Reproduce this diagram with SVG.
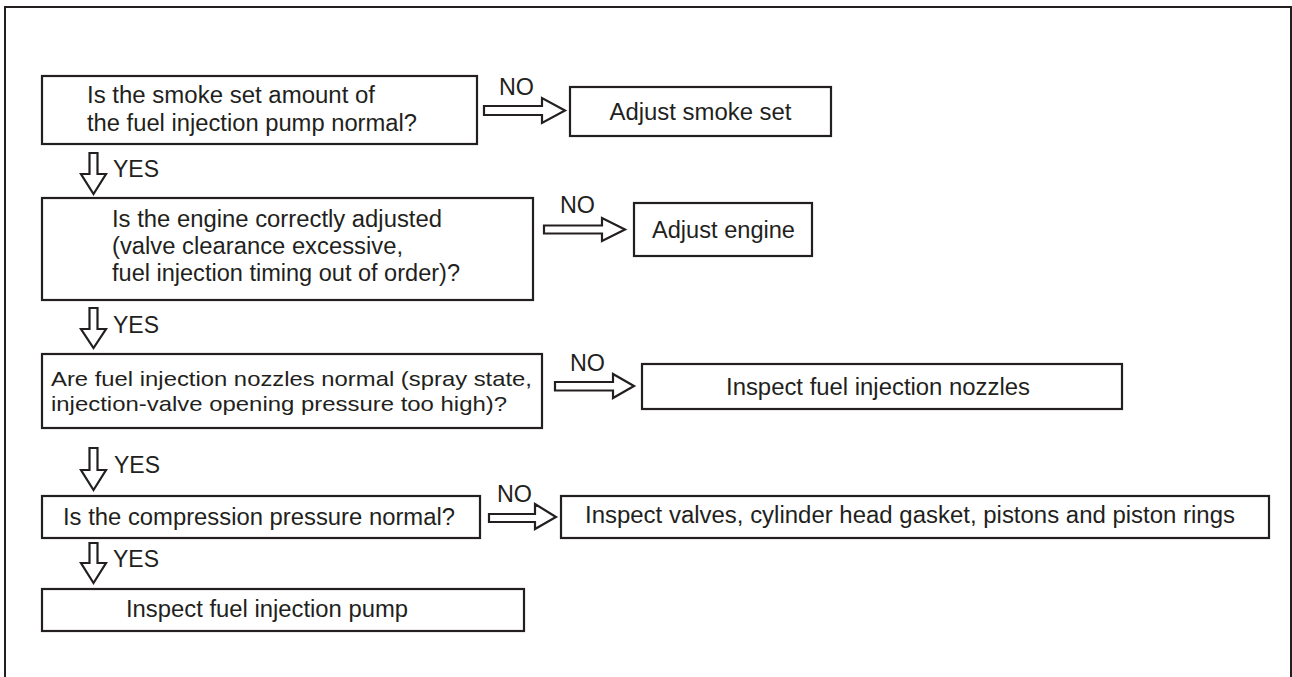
<svg xmlns="http://www.w3.org/2000/svg" width="1292" height="677" viewBox="0 0 1292 677">
<style>
.frame{fill:none;stroke:#231f20;stroke-width:2}
.box{fill:#fff;stroke:#231f20;stroke-width:2.2}
.arr{fill:#fff;stroke:#231f20;stroke-width:2.2;stroke-linejoin:miter}
text{font-family:"Liberation Sans",Arial,sans-serif;font-size:23.5px;fill:#231f20}
.c{text-anchor:middle}
.s{font-size:21px}
</style>
<rect width="1292" height="677" fill="#fff"/>
<path class="frame" d="M5,677 V7 H1291 V677"/>

<g id="q1">
<rect class="box" x="42" y="76" width="435" height="68"/>
<text x="87" y="103" textLength="288" lengthAdjust="spacingAndGlyphs">Is the smoke set amount of</text>
<text x="87" y="131" textLength="330" lengthAdjust="spacingAndGlyphs">the fuel injection pump normal?</text>
</g>
<g id="a1">
<rect class="box" x="570" y="87" width="261" height="49"/>
<text class="c" x="700.5" y="120" textLength="182" lengthAdjust="spacingAndGlyphs">Adjust smoke set</text>
</g>
<g id="q2">
<rect class="box" x="42" y="198" width="491" height="102"/>
<text x="112" y="227" textLength="330" lengthAdjust="spacingAndGlyphs">Is the engine correctly adjusted</text>
<text x="112" y="254" textLength="291" lengthAdjust="spacingAndGlyphs">(valve clearance excessive,</text>
<text x="112" y="281" textLength="348" lengthAdjust="spacingAndGlyphs">fuel injection timing out of order)?</text>
</g>
<g id="a2">
<rect class="box" x="634" y="203" width="178" height="53"/>
<text class="c" x="723.5" y="238" textLength="143" lengthAdjust="spacingAndGlyphs">Adjust engine</text>
</g>
<g id="q3">
<rect class="box" x="42" y="354" width="500" height="74"/>
<text class="s" x="51" y="386" textLength="481" lengthAdjust="spacingAndGlyphs">Are fuel injection nozzles normal (spray state,</text>
<text class="s" x="51" y="411" textLength="456" lengthAdjust="spacingAndGlyphs">injection-valve opening pressure too high)?</text>
</g>
<g id="a3">
<rect class="box" x="642" y="364" width="480" height="45"/>
<text class="c" x="878" y="395" textLength="304" lengthAdjust="spacingAndGlyphs">Inspect fuel injection nozzles</text>
</g>
<g id="q4">
<rect class="box" x="42" y="496" width="438" height="42"/>
<text x="63" y="525" textLength="392" lengthAdjust="spacingAndGlyphs">Is the compression pressure normal?</text>
</g>
<g id="a4">
<rect class="box" x="561" y="496" width="708" height="42"/>
<text x="585" y="523" textLength="650" lengthAdjust="spacingAndGlyphs">Inspect valves, cylinder head gasket, pistons and piston rings</text>
</g>
<g id="a5">
<rect class="box" x="42" y="589" width="482" height="42"/>
<text x="126" y="617" textLength="282" lengthAdjust="spacingAndGlyphs">Inspect fuel injection pump</text>
</g>

<g id="connectors">
<polygon class="arr" points="89.5,153 97.5,153 97.5,174 106,174 93.5,194 81,174 89.5,174"/>
<text x="113" y="177" textLength="46" lengthAdjust="spacingAndGlyphs">YES</text>
<polygon class="arr" points="89.5,308 97.5,308 97.5,329 106,329 93.5,348 81,329 89.5,329"/>
<text x="113" y="333" textLength="46" lengthAdjust="spacingAndGlyphs">YES</text>
<polygon class="arr" points="89.5,448 97.5,448 97.5,470 106,470 93.5,490 81,470 89.5,470"/>
<text x="114" y="473" textLength="46" lengthAdjust="spacingAndGlyphs">YES</text>
<polygon class="arr" points="89.5,543 97.5,543 97.5,563 106,563 93.5,583 81,563 89.5,563"/>
<text x="113" y="567" textLength="46" lengthAdjust="spacingAndGlyphs">YES</text>

<polygon class="arr" points="484,106 542,106 542,98 565,110.5 542,123 542,115 484,115"/>
<text x="499" y="95" textLength="35" lengthAdjust="spacingAndGlyphs">NO</text>
<polygon class="arr" points="544,225.5 602,225.5 602,218 625,229.5 602,241 602,233.5 544,233.5"/>
<text x="560" y="213" textLength="35" lengthAdjust="spacingAndGlyphs">NO</text>
<polygon class="arr" points="555,382 613,382 613,374 634,386 613,398 613,390.5 555,390.5"/>
<text x="570" y="371" textLength="35" lengthAdjust="spacingAndGlyphs">NO</text>
<polygon class="arr" points="489,514 535,514 535,504 556,517 535,529 535,522 489,522"/>
<text x="497" y="502" textLength="35" lengthAdjust="spacingAndGlyphs">NO</text>
</g>
</svg>
